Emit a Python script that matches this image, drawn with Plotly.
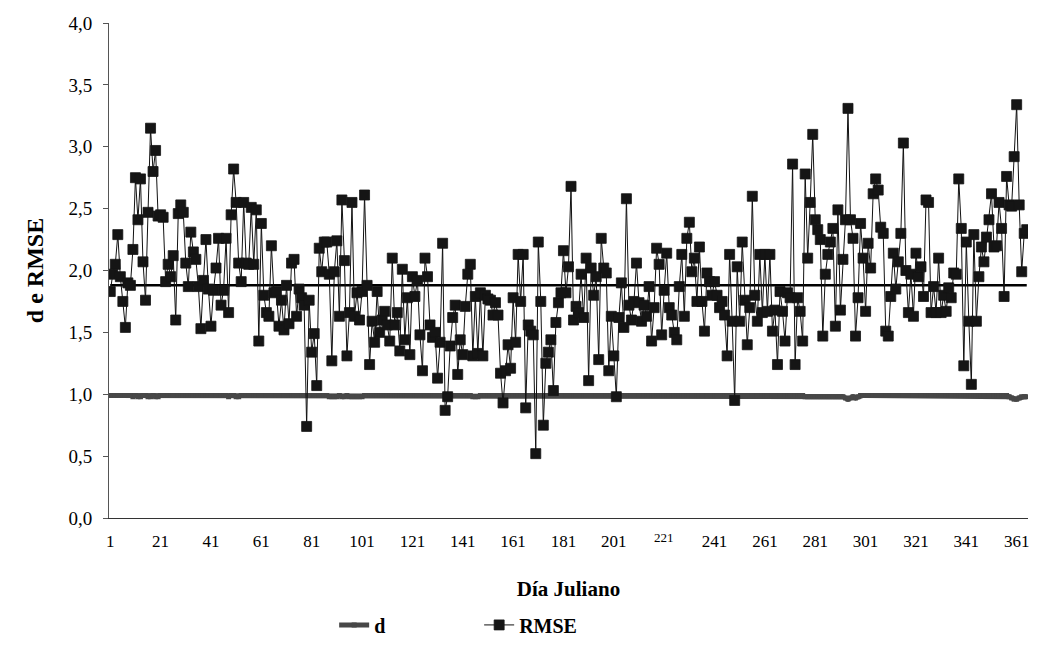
import plotly.graph_objects as go

# ---------------- data ----------------
days = list(range(1, 366))

rmse = [
    1.83, 1.97, 2.05, 2.29, 1.95, 1.75, 1.54, 1.90, 1.88, 2.17,
    2.75, 2.41, 2.74, 2.07, 1.76, 2.47, 3.15, 2.80, 2.97, 2.44,
    2.45, 2.43, 1.91, 2.05, 1.95, 2.12, 1.60, 2.46, 2.53, 2.47,
    2.06, 1.87, 2.31, 2.15, 2.09, 1.87, 1.53, 1.92, 2.25, 1.85,
    1.55, 1.84, 2.02, 2.26, 1.72, 1.84, 2.26, 1.66, 2.45, 2.82,
    2.55, 2.06, 1.91, 2.55, 2.06, 2.05, 2.51, 2.05, 2.49, 1.43,
    2.38, 1.80, 1.66, 1.63, 2.20, 1.82, 1.83, 1.55, 1.76, 1.52,
    1.88, 1.57, 2.06, 2.09, 1.63, 1.85, 1.78, 1.72, 0.74, 1.76,
    1.34, 1.49, 1.07, 2.18, 1.99, 2.23, 2.23, 1.97, 1.27, 1.99,
    2.24, 1.63, 2.57, 2.08, 1.31, 1.66, 2.55, 1.63, 1.82, 1.60,
    1.83, 2.61, 1.88, 1.24, 1.59, 1.42, 1.83, 1.50, 1.60, 1.67,
    1.56, 1.43, 2.10, 1.56, 1.66, 1.35, 2.01, 1.44, 1.78, 1.32,
    1.95, 1.79, 1.92, 1.48, 1.19, 2.10, 1.95, 1.56, 1.46, 1.50,
    1.13, 1.42, 2.22, 0.87, 0.98, 1.39, 1.62, 1.72, 1.16, 1.44,
    1.32, 1.71, 1.97, 2.05, 1.31, 1.79, 1.33, 1.82, 1.31, 1.80,
    1.77, 1.76, 1.64, 1.74, 1.64, 1.17, 0.93, 1.19, 1.40, 1.21,
    1.78, 1.42, 2.13, 1.75, 2.13, 0.89, 1.56, 1.51, 1.48, 0.52,
    2.23, 1.75, 0.75, 1.25, 1.34, 1.44, 1.03, 1.58, 1.74, 1.82,
    2.16, 1.82, 2.03, 2.68, 1.60, 1.71, 1.66, 1.97, 1.62, 2.10,
    1.11, 2.02, 1.80, 1.95, 1.28, 2.26, 2.02, 1.98, 1.19, 1.63,
    1.31, 0.98, 1.62, 1.90, 1.54, 2.58, 1.72, 1.60, 1.75, 2.06,
    1.74, 1.59, 1.72, 1.63, 1.87, 1.43, 1.70, 2.18, 2.05, 1.48,
    1.84, 2.14, 1.70, 1.64, 1.50, 1.44, 1.87, 2.13, 1.63, 2.26,
    2.39, 1.99, 2.10, 1.75, 2.19, 1.75, 1.51, 1.98, 1.91, 1.80,
    1.91, 1.80, 1.70, 1.75, 1.64, 1.31, 2.13, 1.59, 0.95, 2.03,
    1.59, 2.23, 1.76, 1.40, 1.70, 2.60, 1.80, 1.59, 2.13, 1.66,
    2.13, 1.67, 2.13, 1.51, 1.68, 1.24, 1.83, 1.67, 1.43, 1.82,
    1.78, 2.86, 1.24, 1.78, 1.67, 1.43, 2.78, 2.10, 2.55, 3.10,
    2.41, 2.33, 2.25, 1.47, 1.97, 2.13, 2.23, 2.34, 1.55, 2.49,
    1.68, 2.09, 2.41, 3.31, 2.41, 2.26, 1.47, 1.78, 2.38, 2.10,
    1.67, 2.22, 2.02, 2.62, 2.74, 2.65, 2.35, 2.30, 1.51, 1.47,
    1.79, 2.14, 1.85, 2.07, 2.30, 3.03, 2.00, 1.66, 1.97, 1.63,
    2.14, 1.95, 2.03, 1.79, 2.57, 2.55, 1.66, 1.87, 1.66, 2.10,
    1.66, 1.80, 1.67, 1.86, 1.78, 1.98, 1.97, 2.74, 2.34, 1.23,
    2.23, 1.59, 1.08, 2.29, 1.59, 1.95, 2.19, 2.07, 2.27, 2.41,
    2.62, 2.19, 2.20, 2.55, 2.34, 1.79, 2.76, 2.53, 2.52, 2.92,
    3.34, 2.53, 1.99, 2.30, 2.33,
]

d_index = [
    0.99, 0.99, 0.99, 0.99, 0.99, 0.99, 0.99, 0.99, 0.99, 0.98,
    0.99, 0.98, 0.98, 0.99, 0.99, 0.98, 0.98, 0.99, 0.98, 0.98,
    0.99, 0.99, 0.99, 0.99, 0.99, 0.99, 0.99, 0.99, 0.99, 0.99,
    0.99, 0.99, 0.99, 0.99, 0.99, 0.99, 0.99, 0.99, 0.99, 0.99,
    0.99, 0.99, 0.99, 0.99, 0.99, 0.99, 0.99, 0.98, 0.99, 0.99,
    0.98, 0.98, 0.99, 0.99, 0.99, 0.99, 0.99, 0.99, 0.99, 0.99,
    0.99, 0.99, 0.99, 0.99, 0.99, 0.99, 0.99, 0.99, 0.99, 0.99,
    0.99, 0.99, 0.99, 0.99, 0.99, 0.99, 0.99, 0.99, 0.99, 0.99,
    0.99, 0.99, 0.99, 0.99, 0.99, 0.99, 0.99, 0.98, 0.98, 0.98,
    0.98, 0.99, 0.98, 0.98, 0.99, 0.98, 0.98, 0.98, 0.98, 0.98,
    0.98, 0.99, 0.99, 0.99, 0.99, 0.99, 0.99, 0.99, 0.99, 0.99,
    0.99, 0.99, 0.99, 0.99, 0.99, 0.99, 0.99, 0.99, 0.99, 0.99,
    0.99, 0.99, 0.99, 0.99, 0.99, 0.99, 0.99, 0.99, 0.99, 0.99,
    0.99, 0.99, 0.99, 0.99, 0.99, 0.99, 0.99, 0.99, 0.99, 0.99,
    0.99, 0.99, 0.99, 0.99, 0.98, 0.98, 0.98, 0.99, 0.99, 0.99,
    0.99, 0.99, 0.99, 0.99, 0.99, 0.99, 0.99, 0.99, 0.99, 0.99,
    0.99, 0.99, 0.99, 0.99, 0.99, 0.99, 0.99, 0.99, 0.99, 0.99,
    0.99, 0.99, 0.99, 0.99, 0.99, 0.99, 0.99, 0.99, 0.99, 0.99,
    0.99, 0.99, 0.99, 0.99, 0.99, 0.99, 0.99, 0.99, 0.99, 0.99,
    0.99, 0.99, 0.99, 0.99, 0.99, 0.99, 0.99, 0.99, 0.99, 0.99,
    0.99, 0.99, 0.99, 0.99, 0.99, 0.99, 0.99, 0.99, 0.99, 0.99,
    0.99, 0.99, 0.99, 0.99, 0.99, 0.99, 0.99, 0.99, 0.99, 0.99,
    0.99, 0.99, 0.99, 0.99, 0.99, 0.99, 0.99, 0.99, 0.99, 0.99,
    0.99, 0.99, 0.99, 0.99, 0.99, 0.99, 0.99, 0.99, 0.99, 0.99,
    0.99, 0.99, 0.99, 0.99, 0.99, 0.99, 0.99, 0.99, 0.99, 0.99,
    0.99, 0.99, 0.99, 0.99, 0.99, 0.99, 0.99, 0.99, 0.99, 0.99,
    0.99, 0.99, 0.99, 0.99, 0.99, 0.99, 0.99, 0.99, 0.99, 0.99,
    0.99, 0.99, 0.99, 0.99, 0.99, 0.99, 0.98, 0.98, 0.98, 0.98,
    0.98, 0.98, 0.98, 0.98, 0.98, 0.98, 0.98, 0.98, 0.98, 0.98,
    0.98, 0.98, 0.97, 0.96, 0.97, 0.98, 0.97, 0.98, 0.99, 0.99,
    0.99, 0.99, 0.99, 0.99, 0.99, 0.99, 0.99, 0.99, 0.99, 0.99,
    0.99, 0.99, 0.99, 0.99, 0.99, 0.99, 0.99, 0.99, 0.99, 0.99,
    0.99, 0.99, 0.99, 0.99, 0.99, 0.99, 0.99, 0.99, 0.99, 0.99,
    0.99, 0.99, 0.99, 0.99, 0.99, 0.99, 0.99, 0.99, 0.99, 0.99,
    0.99, 0.99, 0.99, 0.99, 0.99, 0.99, 0.99, 0.99, 0.99, 0.99,
    0.99, 0.99, 0.99, 0.99, 0.99, 0.99, 0.99, 0.98, 0.97, 0.96,
    0.96, 0.97, 0.98, 0.98, 0.98,
]

rmse_mean = 1.88          # black horizontal reference line
mean_span = [1, 365]

tick_days = [1, 21, 41, 61, 81, 101, 121, 141, 161, 181, 201, 221,
             241, 261, 281, 301, 321, 341, 361]
raised_tick = 221          # this label sits higher and smaller in the original
tick_text = [("" if t == raised_tick else str(t)) for t in tick_days]

y_ticks = [0, 0.5, 1.0, 1.5, 2.0, 2.5, 3.0, 3.5, 4.0]

FONT = "Liberation Serif, Times New Roman, serif"

fig = go.Figure()

fig.add_trace(go.Scatter(
    x=days, y=d_index, name="<b>d</b>", mode="lines+markers",
    line=dict(color="#474747", width=5),
    marker=dict(symbol="square", size=5, color="#474747"),
))

fig.add_trace(go.Scatter(
    x=mean_span, y=[rmse_mean, rmse_mean], mode="lines",
    line=dict(color="#000000", width=2.5), showlegend=False, hoverinfo="skip",
))

fig.add_trace(go.Scatter(
    x=days, y=rmse, name="<b>RMSE</b>", mode="lines+markers",
    line=dict(color="#111111", width=1),
    marker=dict(symbol="square", size=10, color="#151515",
                line=dict(color="#151515", width=0.8)),
))

fig.add_annotation(
    x=raised_tick, y=0, xref="x", yref="y", yanchor="top",
    yshift=-10, showarrow=False, text=str(raised_tick),
    font=dict(family=FONT, size=13, color="black"),
)

fig.update_layout(
    width=1037, height=656, autosize=False,
    margin=dict(l=109, r=9, t=23, b=138),
    paper_bgcolor="white", plot_bgcolor="white",
    separators=",.",
    font=dict(family=FONT, size=17, color="black"),
    showlegend=True,
    legend=dict(
        orientation="h", x=0.245, xanchor="left", y=-0.216, yanchor="middle",
        font=dict(family=FONT, size=20, color="black"),
        entrywidth=100, entrywidthmode="pixels",
        itemwidth=30, bgcolor="rgba(0,0,0,0)",
    ),
    xaxis=dict(
        range=[0.5, 365.5], showgrid=False, zeroline=False,
        showline=True, linecolor="#333333", linewidth=1,
        ticks="", tickvals=tick_days, ticktext=tick_text,
        tickfont=dict(family=FONT, size=17, color="black"),
        ticklabelstandoff=8,
        title=dict(text="<b>Día Juliano</b>", standoff=30,
                   font=dict(family=FONT, size=21, color="black")),
    ),
    yaxis=dict(
        range=[0, 4], showgrid=False, zeroline=False,
        showline=True, linecolor="#555555", linewidth=1,
        ticks="outside", ticklen=5, tickcolor="#555555",
        tickvals=y_ticks, tickformat=".1f",
        tickfont=dict(family=FONT, size=19, color="black"),
        ticklabelstandoff=7,
        title=dict(text="<b>d e RMSE</b>", standoff=18,
                   font=dict(family=FONT, size=24, color="black")),
    ),
)

fig.write_html("out.html")
